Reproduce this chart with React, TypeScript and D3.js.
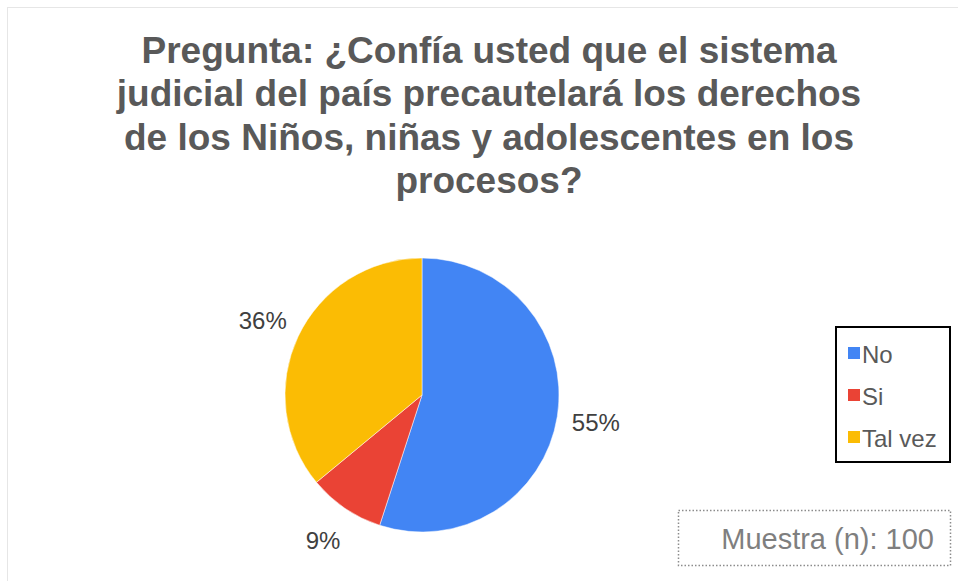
import React from "react";
import * as d3 from "d3";

const categories = ["No", "Si", "Tal vez"];
const values = [55, 9, 36];
const colors = ["#4285F4", "#EA4335", "#FBBC04"];
const titleLines = [
  "Pregunta: ¿Confía usted que el sistema",
  "judicial del país precautelará los derechos",
  "de los Niños, niñas y adolescentes en los",
  "procesos?",
];
const sampleText = "Muestra (n): 100";

const W = 958;
const H = 581;

export default function App() {
  const cx = 422;
  const cy = 395;
  const r = 137;
  const pie = d3.pie<number>().sort(null).value((d) => d);
  const arcs = pie(values);
  const arc = d3.arc<d3.PieArcDatum<number>>().innerRadius(0).outerRadius(r);
  const labelArc = d3.arc<d3.PieArcDatum<number>>().innerRadius(176).outerRadius(176);
  const total = d3.sum(values);
  const font = "'Liberation Sans', Arial, sans-serif";

  return (
    <svg
      width={W}
      height={H}
      style={{ position: "absolute", left: 0, top: 0 }}
      fontFamily={font}
    >
      <rect x={0} y={0} width={W} height={H} fill="#fff" />
      <rect x={7.5} y={7.5} width={W + 10} height={H + 10} fill="#fff" stroke="#e6e6e6" strokeWidth={1} />
      <g>
        {titleLines.map((t, i) => (
          <text
            key={i}
            x={489}
            y={63 + i * 43.3}
            textAnchor="middle"
            fontSize={37}
            fontWeight="bold"
            fill="#595959"
          >
            {t}
          </text>
        ))}
      </g>
      <g transform={`translate(${cx},${cy})`}>
        {arcs.map((a, i) => (
          <path key={i} d={arc(a) || ""} fill={colors[i]} stroke="#fff" strokeWidth={0.5} />
        ))}
        {arcs.map((a, i) => {
          const [x, y] = labelArc.centroid(a);
          return (
            <text
              key={"l" + i}
              x={x}
              y={y}
              textAnchor="middle"
              dominantBaseline="central"
              fontSize={24}
              fill="#404040"
            >
              {Math.round((values[i] / total) * 100)}%
            </text>
          );
        })}
      </g>
      <g>
        <rect x={836} y={327} width={114} height={135} fill="#fff" stroke="#000" strokeWidth={2} />
        {categories.map((c, i) => (
          <g key={c} transform={`translate(848,${353 + i * 42})`}>
            <rect x={0} y={-6} width={12} height={12} fill={colors[i]} />
            <text x={14} y={1} dominantBaseline="central" fontSize={24} fill="#595959">
              {c}
            </text>
          </g>
        ))}
      </g>
      <g>
        <rect
          x={678.5}
          y={510.5}
          width={272}
          height={55}
          fill="#fff"
          stroke="#8c8c8c"
          strokeWidth={1.5}
          strokeDasharray="1.5 2"
        />
        <text x={934} y={539} textAnchor="end" dominantBaseline="central" fontSize={29} fill="#7f7f7f">
          {sampleText}
        </text>
      </g>
    </svg>
  );
}
